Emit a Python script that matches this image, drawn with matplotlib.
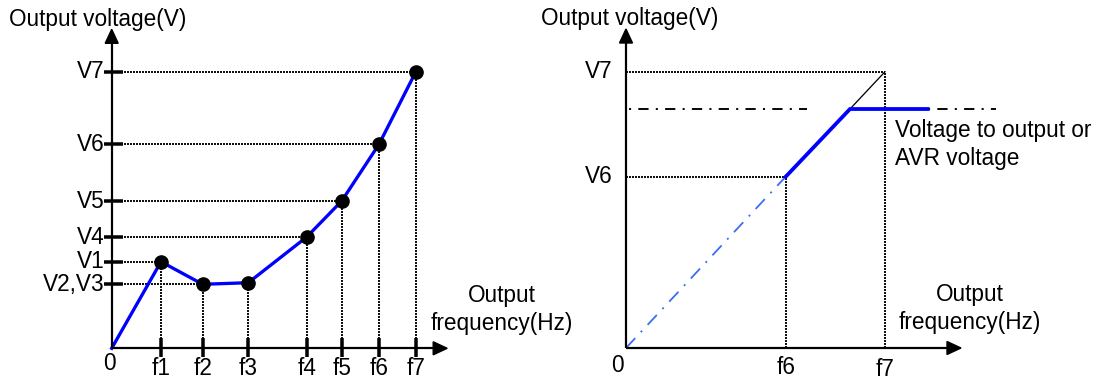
import matplotlib
matplotlib.use("Agg")
import matplotlib.pyplot as plt
from matplotlib.patches import Polygon

plt.rcParams['font.family'] = ['Liberation Sans', 'DejaVu Sans']

# ---- Left panel data (multi-point V/F curve) ----
f_labels = ["f1", "f2", "f3", "f4", "f5", "f6", "f7"]
f_vals = [49.3, 91.0, 136.6, 195.0, 230.0, 267.3, 304.0]
v_vals = [86.6, 64.0, 65.6, 111.3, 147.3, 204.0, 276.3]
v_tick_labels = ["V1", "V2,V3", "V4", "V5", "V6", "V7"]
v_tick_vals = [86.6, 64.0, 111.3, 147.3, 204.0, 276.3]
v_tick_point_idx = [0, 1, 3, 4, 5, 6]

# ---- Right panel data (AVR limited) ----
r_f_labels = ["f6", "f7"]
r_f_vals = [159.7, 259.0]
r_v_labels = ["V6", "V7"]
r_v_vals = [171.3, 276.3]
avr_level = 239.0
knee_f = 224.0
blue_end_f = 301.7
avr_dash_segments = [(3.4, 180.5), (301.7, 369.8)]

FS = 16.3
BLUE = "#0000ff"
LBLUE = "#3a6cf5"
px = 0.72  # points per pixel at dpi 100

fig = plt.figure(figsize=(11.05, 3.82), dpi=100)
axL = fig.add_axes([0, 0, 0.5, 1])
axR = fig.add_axes([0.5, 0, 0.5, 1])
axL.set_xlim(-111.7, 440.8); axL.set_ylim(-33.7, 348.3)
axR.set_xlim(-73.5, 479.0); axR.set_ylim(-34.0, 348.0)
for ax in (axL, axR):
    ax.axis('off')

dot_ls = (0, (1.0, 1.0))
dot_lw = 2.0 * px
axis_lw = 2.2 * px
dot_kw = dict(color='#111111', lw=dot_lw, linestyle=dot_ls, zorder=2, antialiased=False)


def draw_axes(ax, xtip, ytip):
    ax.plot([0, xtip - 12], [0, 0], color='k', lw=axis_lw, solid_capstyle='butt', zorder=4)
    ax.plot([0, 0], [0, ytip - 12], color='k', lw=axis_lw, solid_capstyle='butt', zorder=4)
    ax.add_patch(Polygon([(xtip - 14, 6.5), (xtip - 14, -6.5), (xtip, 0)], closed=True,
                         color='k', zorder=4))
    ax.add_patch(Polygon([(-6.5, ytip - 14), (6.5, ytip - 14), (0, ytip)], closed=True,
                         color='k', zorder=4))


# ---------------- Left panel ----------------
draw_axes(axL, 335.5, 319)
for f, v in zip(f_vals, v_vals):
    axL.plot([f, f], [0, v], **dot_kw)
for v, i in zip(v_tick_vals, v_tick_point_idx):
    axL.plot([0, f_vals[i]], [v, v], **dot_kw)
for v in v_tick_vals:
    axL.plot([-8, 11.5], [v, v], color='k', lw=3.5 * px, solid_capstyle='butt', zorder=5)
for f in f_vals:
    axL.plot([f, f], [-9, 10], color='k', lw=3.5 * px, solid_capstyle='butt', zorder=5)
axL.plot([0] + f_vals, [0] + v_vals, color=BLUE, lw=3.3 * px, zorder=3,
         solid_joinstyle='round')
axL.plot(f_vals, v_vals, 'o', color='k', ms=9.5, zorder=6)
for v, lab in zip(v_tick_vals, v_tick_labels):
    axL.text(-7, v, lab, ha='right', va='center', fontsize=FS, zorder=1)
for f, lab in zip(f_vals, f_labels):
    axL.text(f, -20, lab, ha='center', va='center', fontsize=FS)
axL.text(-2, -15, "0", ha='center', va='center', fontsize=FS)
axL.text(-102.7, 329, "Output voltage(V)", ha='left', va='center', fontsize=FS)
axL.text(390, 53, "Output", ha='center', va='center', fontsize=FS)
axL.text(318.6, 25, "frequency(Hz)", ha='left', va='center', fontsize=FS)

# ---------------- Right panel ----------------
draw_axes(axR, 335.0, 319)
f6, f7 = r_f_vals
v6, v7 = r_v_vals
for f, v in zip(r_f_vals, r_v_vals):
    axR.plot([f, f], [0, v], **dot_kw)
    axR.plot([0, f], [v, v], **dot_kw)
for x0, x1 in avr_dash_segments:
    axR.plot([x0, x1], [avr_level, avr_level], color='k', lw=1.9 * px,
             linestyle=(0, (1.1, 3.8, 5.4, 3.8)), zorder=2)
axR.plot([0, f6], [0, v6], color=LBLUE, lw=1.8 * px, linestyle=(0, (7.5, 4.5, 1.1, 4.5)), zorder=3)
axR.plot([knee_f, f7], [avr_level, v7], color='k', lw=1.3 * px, zorder=3)
axR.plot([f6, knee_f, blue_end_f], [v6, avr_level, avr_level], color=BLUE, lw=3.8 * px,
         zorder=4, solid_joinstyle='miter')
for v, lab in zip(r_v_vals, r_v_labels):
    axR.text(-13, v, lab, ha='right', va='center', fontsize=FS)
axR.text(f6, -20, r_f_labels[0], ha='center', va='center', fontsize=FS)
axR.text(f7, -22, r_f_labels[1], ha='center', va='center', fontsize=FS)
axR.text(-8.7, -17, "0", ha='center', va='center', fontsize=FS)
axR.text(-85, 329, "Output voltage(V)", ha='left', va='center', fontsize=FS)
axR.text(269, 218, "Voltage to output or", ha='left', va='center', fontsize=FS)
axR.text(269, 190, "AVR voltage", ha='left', va='center', fontsize=FS)
axR.text(343.7, 53, "Output", ha='center', va='center', fontsize=FS)
axR.text(272.5, 25, "frequency(Hz)", ha='left', va='center', fontsize=FS)

fig.savefig("out.png", dpi=100, facecolor='white')
